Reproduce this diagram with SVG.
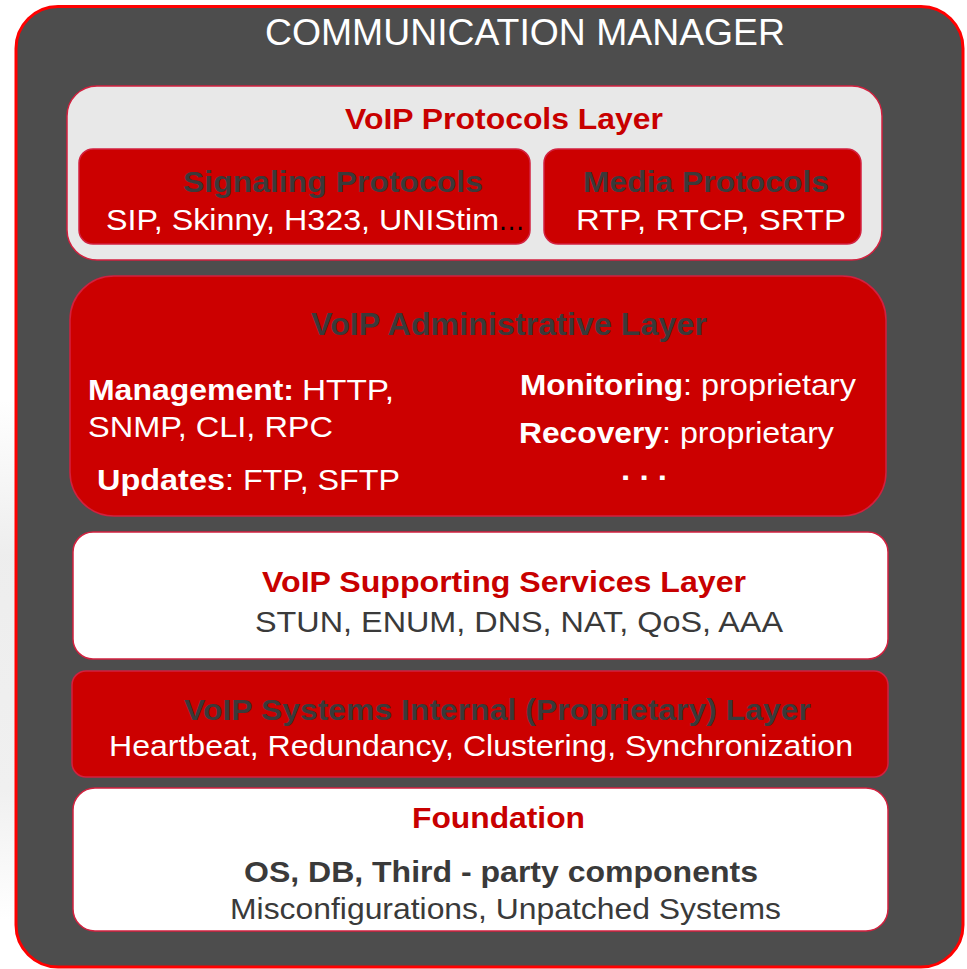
<svg xmlns="http://www.w3.org/2000/svg" width="967" height="969" viewBox="0 0 967 969">
  <style>
    text { font-family: "Liberation Sans", Arial, sans-serif; }
    .b { font-weight: bold; }
    .w { fill: #ffffff; }
    .dk { fill: #3a3a3a; }
    .rd { fill: #c80000; }
    .box-red { fill: #cc0000; stroke: #d2213f; stroke-width: 1.5; }
    .box-white { fill: #ffffff; stroke: #d2213f; stroke-width: 1.5; }
    .box-grey { fill: #e8e8e8; stroke: #d2213f; stroke-width: 1.5; }
  </style>
  <defs>
    <linearGradient id="edgeHaze" x1="0" y1="0" x2="0" y2="1">
      <stop offset="0" stop-color="#e6e6e6" stop-opacity="0"/>
      <stop offset="0.3" stop-color="#e6e6e6" stop-opacity="0.7"/>
      <stop offset="0.75" stop-color="#e6e6e6" stop-opacity="0.6"/>
      <stop offset="1" stop-color="#e6e6e6" stop-opacity="0"/>
    </linearGradient>
  </defs>

  <rect x="0" y="0" width="967" height="969" fill="#ffffff"/>
  <rect x="0" y="400" width="16" height="520" fill="url(#edgeHaze)"/>

  <!-- outer container -->
  <g id="communication-manager">
    <rect x="16" y="6.5" width="947" height="960.5" rx="42" fill="#4d4d4d" stroke="#ff0000" stroke-width="3"/>
    <text x="265" y="45" font-size="37" class="w" textLength="520" lengthAdjust="spacingAndGlyphs">COMMUNICATION MANAGER</text>
  </g>

  <!-- protocols layer -->
  <g id="protocols-layer">
    <rect x="67" y="86" width="815" height="174" rx="30" class="box-grey"/>
    <text x="345" y="129" font-size="30" class="b rd" textLength="318" lengthAdjust="spacingAndGlyphs">VoIP Protocols Layer</text>
  </g>

  <g id="signaling-protocols">
    <rect x="79" y="149" width="451" height="95" rx="14" class="box-red"/>
    <text x="183" y="192" font-size="30" class="b dk" textLength="300" lengthAdjust="spacingAndGlyphs">Signaling Protocols</text>
    <text x="106" y="230" font-size="29" class="w" textLength="393" lengthAdjust="spacingAndGlyphs">SIP, Skinny, H323, UNIStim</text>
    <text x="498" y="230" font-size="29" fill="#000000" textLength="27" lengthAdjust="spacingAndGlyphs">…</text>
  </g>

  <g id="media-protocols">
    <rect x="544" y="149" width="317" height="95" rx="14" class="box-red"/>
    <text x="583" y="192" font-size="30" class="b dk" textLength="246" lengthAdjust="spacingAndGlyphs">Media Protocols</text>
    <text x="576" y="230" font-size="29" class="w" textLength="270" lengthAdjust="spacingAndGlyphs">RTP, RTCP, SRTP</text>
  </g>

  <!-- administrative layer -->
  <g id="administrative-layer">
    <rect x="70" y="276" width="816" height="240" rx="44" class="box-red"/>
    <text x="311" y="335" font-size="31" class="b dk" textLength="396" lengthAdjust="spacingAndGlyphs">VoIP Administrative Layer</text>

    <text x="88" y="400" font-size="30" class="b w" textLength="206" lengthAdjust="spacingAndGlyphs">Management:</text>
    <text x="302" y="400" font-size="30" class="w" textLength="92" lengthAdjust="spacingAndGlyphs">HTTP,</text>
    <text x="88" y="437" font-size="30" class="w" textLength="245" lengthAdjust="spacingAndGlyphs">SNMP, CLI, RPC</text>

    <text x="97" y="490" font-size="30" class="b w" textLength="128" lengthAdjust="spacingAndGlyphs">Updates</text>
    <text x="225" y="490" font-size="30" class="w" textLength="175" lengthAdjust="spacingAndGlyphs">: FTP, SFTP</text>

    <text x="520" y="395" font-size="30" class="b w" textLength="163" lengthAdjust="spacingAndGlyphs">Monitoring</text>
    <text x="683" y="395" font-size="30" class="w" textLength="173" lengthAdjust="spacingAndGlyphs">: proprietary</text>

    <text x="519" y="443" font-size="30" class="b w" textLength="143" lengthAdjust="spacingAndGlyphs">Recovery</text>
    <text x="662" y="443" font-size="30" class="w" textLength="172" lengthAdjust="spacingAndGlyphs">: proprietary</text>

    <text x="621" y="480" font-size="30" class="b w" textLength="46" lengthAdjust="spacingAndGlyphs">. . .</text>
  </g>

  <!-- supporting services layer -->
  <g id="supporting-services-layer">
    <rect x="73" y="532" width="815" height="127" rx="20" class="box-white"/>
    <text x="262" y="592" font-size="30" class="b rd" textLength="484" lengthAdjust="spacingAndGlyphs">VoIP Supporting Services Layer</text>
    <text x="255" y="632" font-size="30" class="dk" textLength="528" lengthAdjust="spacingAndGlyphs">STUN, ENUM, DNS, NAT, QoS, AAA</text>
  </g>

  <!-- internal layer -->
  <g id="internal-layer">
    <rect x="72" y="671" width="816" height="106" rx="14" class="box-red"/>
    <text x="184" y="720" font-size="30" class="b dk" textLength="627" lengthAdjust="spacingAndGlyphs">VoIP Systems Internal (Proprietary) Layer</text>
    <text x="109" y="756" font-size="30" class="w" textLength="744" lengthAdjust="spacingAndGlyphs">Heartbeat, Redundancy, Clustering, Synchronization</text>
  </g>

  <!-- foundation -->
  <g id="foundation">
    <rect x="73" y="788" width="815" height="143" rx="22" class="box-white"/>
    <text x="412" y="828" font-size="30" class="b rd" textLength="173" lengthAdjust="spacingAndGlyphs">Foundation</text>
    <text x="244" y="882" font-size="30" class="b dk" textLength="514" lengthAdjust="spacingAndGlyphs">OS, DB, Third - party components</text>
    <text x="230" y="919" font-size="30" class="dk" textLength="551" lengthAdjust="spacingAndGlyphs">Misconfigurations, Unpatched Systems</text>
  </g>
</svg>
